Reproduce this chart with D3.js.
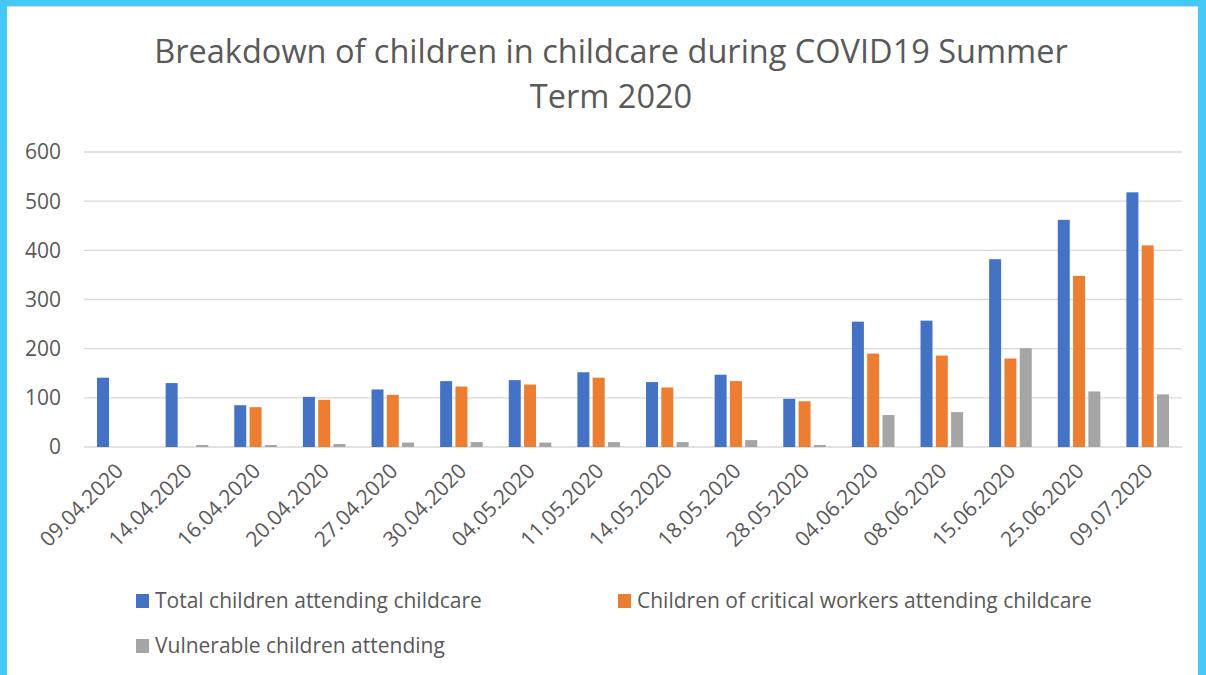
<!DOCTYPE html>
<html>
<head>
<meta charset="utf-8">
<script src="https://cdn.jsdelivr.net/npm/d3@7"></script>
<style>
  html, body { margin: 0; padding: 0; background: #fff; }
  svg { display: block; font-family: "Open Sans", sans-serif; }
</style>
</head>
<body>
<svg id="chart"></svg>
<script>
const dates = ["09.04.2020", "14.04.2020", "16.04.2020", "20.04.2020", "27.04.2020", "30.04.2020",
  "04.05.2020", "11.05.2020", "14.05.2020", "18.05.2020", "28.05.2020", "04.06.2020",
  "08.06.2020", "15.06.2020", "25.06.2020", "09.07.2020"];
const seriesNames = ["Total children attending childcare",
  "Children of critical workers attending childcare",
  "Vulnerable children attending"];
const totalChildren = [141, 130, 85, 102, 117, 134, 136, 152, 132, 147, 98, 255, 257, 382, 462, 518];
const criticalWorkers = [0, 0, 81, 96, 106, 123, 127, 141, 121, 134, 93, 190, 186, 180, 348, 410];
const vulnerable = [0, 4, 4, 6, 9, 10, 9, 10, 10, 14, 4, 65, 71, 201, 113, 107];
const yTicks = [0, 100, 200, 300, 400, 500, 600];

const width = 1206;
const height = 675;
const colors = ["#4472C4", "#ED7D31", "#A5A5A5"];
const textColor = "#595959";

const svg = d3.select("#chart")
  .attr("width", width)
  .attr("height", height);

// frame
svg.append("rect").attr("x", 0).attr("y", 0).attr("width", width).attr("height", height).attr("fill", "#45C8F5");
svg.append("rect").attr("x", 7).attr("y", 6).attr("width", 1191).attr("height", height - 6).attr("fill", "#fff");
svg.append("line").attr("x1", 7).attr("x2", 1198).attr("y1", 6.5).attr("y2", 6.5).attr("stroke", "#d9d9d9");

// title
const title = svg.append("text")
  .attr("text-anchor", "middle")
  .attr("fill", textColor)
  .style("font-size", "32.5px");
title.append("tspan").attr("x", 611).attr("y", 63).text("Breakdown of children in childcare during COVID19 Summer");
title.append("tspan").attr("x", 611).attr("y", 108).text("Term 2020");

const margin = { left: 84, right: 24, top: 152, bottom: 228 };
const x = d3.scaleBand()
  .domain(dates)
  .range([margin.left, width - margin.right]);
const y = d3.scaleLinear()
  .domain([0, 600])
  .range([height - margin.bottom, margin.top]);

// gridlines
svg.append("g")
  .selectAll("line")
  .data(yTicks)
  .enter()
  .append("line")
  .attr("x1", margin.left)
  .attr("x2", width - margin.right)
  .attr("y1", d => y(d))
  .attr("y2", d => y(d))
  .attr("stroke", "#d9d9d9")
  .attr("stroke-width", 1.3);

// y labels
svg.append("g")
  .selectAll("text")
  .data(yTicks)
  .enter()
  .append("text")
  .attr("x", 61)
  .attr("y", d => y(d))
  .attr("dy", "0.35em")
  .attr("text-anchor", "end")
  .attr("fill", textColor)
  .style("font-size", "21px")
  .text(d => d);

// bars
const barW = 12;
const barStep = 15.3;
const series = [totalChildren, criticalWorkers, vulnerable];
series.forEach((vals, s) => {
  svg.append("g")
    .selectAll("rect")
    .data(vals)
    .enter()
    .append("rect")
    .attr("x", (d, i) => x(dates[i]) + x.bandwidth() / 2 + (s - 1) * barStep - barW / 2)
    .attr("y", d => y(d))
    .attr("width", barW)
    .attr("height", d => y(0) - y(d))
    .attr("fill", colors[s]);
});

// x labels
svg.append("g")
  .selectAll("text")
  .data(dates)
  .enter()
  .append("text")
  .attr("transform", d => `translate(${x(d) + x.bandwidth() / 2 + 1}, ${y(0) + 20}) rotate(-45)`)
  .attr("text-anchor", "end")
  .attr("dy", "0.35em")
  .attr("fill", textColor)
  .style("font-size", "21px")
  .text(d => d);

// legend
const legendPos = [[136, 601], [618, 601], [136, 646]];
const legendItems = svg.append("g")
  .selectAll("g")
  .data(seriesNames)
  .enter()
  .append("g")
  .attr("transform", (d, i) => `translate(${legendPos[i][0]}, ${legendPos[i][1]})`);

legendItems.append("rect")
  .attr("x", 0)
  .attr("y", -7)
  .attr("width", 13)
  .attr("height", 14)
  .attr("fill", (d, i) => colors[i]);

legendItems.append("text")
  .attr("x", 19)
  .attr("dy", "0.35em")
  .attr("fill", textColor)
  .style("font-size", "21px")
  .text(d => d);
</script>
</body>
</html>
